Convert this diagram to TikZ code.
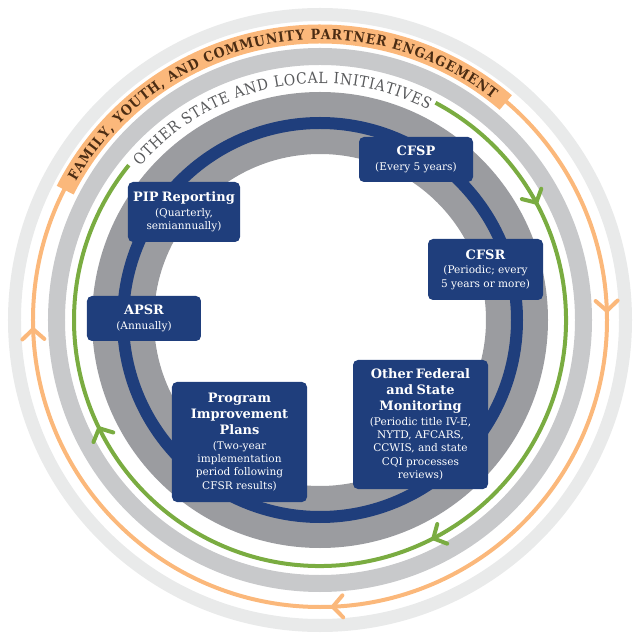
\documentclass[tikz,border=0pt]{standalone}
\usepackage{fontspec}
\setmainfont{DejaVu Serif}
\newfontfamily\slabcond{DejaVu Serif Condensed}
\usetikzlibrary{arrows.meta,decorations.markings,decorations.text}

\definecolor{navy}{HTML}{1F3E7C}
\definecolor{ringgray}{HTML}{9B9CA0}
\definecolor{lightring}{HTML}{C8C9CB}
\definecolor{paler}{HTML}{E9EAEA}
\definecolor{peach}{HTML}{FBB87B}
\definecolor{leaf}{HTML}{7AAC41}
\definecolor{bark}{HTML}{4B2C13}
\definecolor{slate}{HTML}{58595B}

\newcommand{\cardtitle}[1]{{\fontsize{13}{16}\selectfont\bfseries #1\par}}
\newcommand{\cardnote}[1]{{\fontsize{10.6}{13.4}\selectfont\vskip 1.5bp #1\par}}

\tikzset{barb/.tip={Straight Barb[round,length=10bp,width=22bp]}}

\begin{document}
\begin{tikzpicture}[x=1bp,y=1bp,
    card/.style 2 args={fill=navy, rounded corners=5bp, text=white, align=center,
      inner sep=0pt, text width=#1, minimum height=#2},
    flow/.style={postaction={decorate}, line width=4bp}]
  \useasboundingbox (-320,-320) rectangle (320,320);

  \foreach \r/\w/\col in {305.5/13/paler, 263.5/17/lightring, 197/62/ringgray}
    \draw[\col, line width=\w bp] (0,0) circle[radius=\r];

  \draw[peach, flow, decoration={markings,
      mark=at position 0.246 with {\arrow{barb}},
      mark=at position 0.494 with {\arrow{barb}},
      mark=at position 0.746 with {\arrow{barb}}}]
    (90:287) arc[start angle=90, end angle=-270, radius=287];
  \draw[peach, line width=19bp] (153:286) arc[start angle=153, end angle=49.5, radius=286];
  \path[decorate, decoration={text along path, text align=fit to path, text color=bark,
      text={|\slabcond\bfseries\fontsize{14}{14}\selectfont|FAMILY, YOUTH, AND COMMUNITY PARTNER ENGAGEMENT}}]
    (150.5:280.5) arc[start angle=150.5, end angle=52, radius=280.5];

  \draw[leaf, flow, decoration={markings,
      mark=at position 0.121 with {\arrow{barb}},
      mark=at position 0.445 with {\arrow{barb}},
      mark=at position 0.770 with {\arrow{barb}}}]
    (62:246) arc[start angle=62, end angle=-219, radius=246];
  \path[decorate, decoration={text along path, text align=fit to path, text color=slate,
      text={|\slabcond\fontsize{15.5}{15.5}\selectfont|OTHER STATE AND LOCAL INITIATIVES}}]
    (139.5:236.5) arc[start angle=139.5, end angle=62.8, radius=236.5];

  \draw[navy, line width=12bp] (0,0) circle[radius=197];

  \node[card={114bp}{45bp}] (cfsp) at (96,160.5)
    {\cardtitle{CFSP}\cardnote{(Every 5 years)}};
  \node[card={115bp}{61bp}] (cfsr) at (165.5,50.5)
    {\cardtitle{CFSR}\cardnote{(Periodic; every\\5 years or more)}};
  \node[card={112bp}{60bp}] (pip) at (-136,108)
    {\cardtitle{PIP Reporting}\cardnote{(Quarterly,\\semiannually)}};
  \node[card={114bp}{45bp}] (apsr) at (-176,1.5)
    {\cardtitle{APSR}\cardnote{(Annually)}};
  \node[card={135bp}{120bp}] (pipl) at (-80.5,-122)
    {\cardtitle{Program\\Improvement\\Plans}\cardnote{(Two-year\\implementation\\period following\\CFSR results)}};
  \node[card={135bp}{129bp}] (monitor) at (100.5,-104.5)
    {\cardtitle{Other Federal\\and State\\Monitoring}\cardnote{(Periodic title IV-E,\\NYTD, AFCARS,\\CCWIS, and state\\CQI processes\\reviews)}};
\end{tikzpicture}
\end{document}
